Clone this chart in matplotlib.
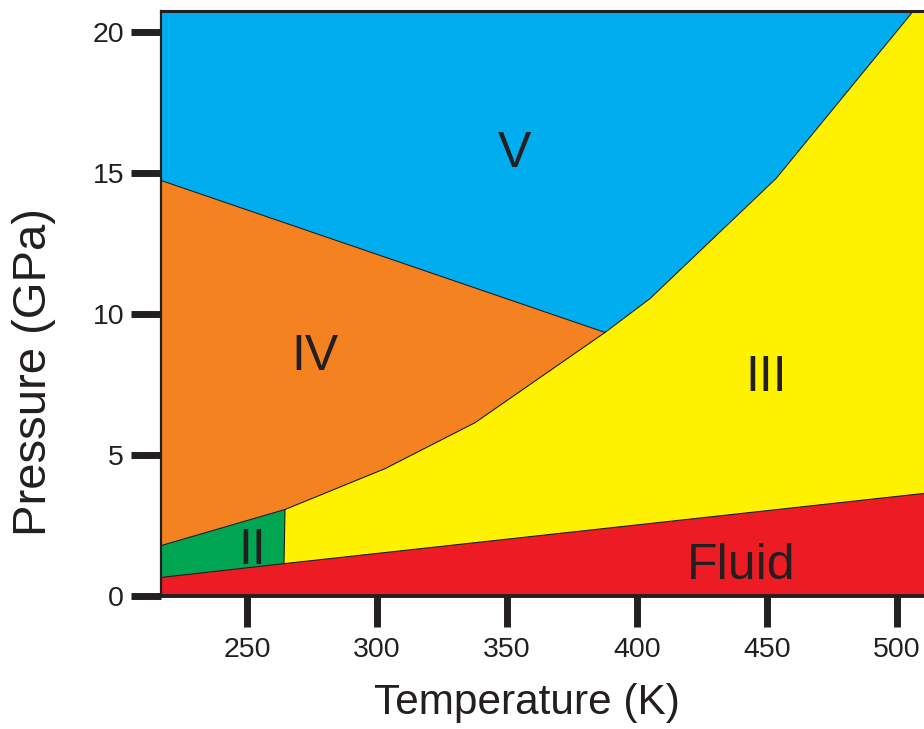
import matplotlib
matplotlib.use("Agg")
import matplotlib.pyplot as plt

plt.rcParams['font.family'] = ['Liberation Sans', 'DejaVu Sans']

INK = '#231F20'

# Axis ranges and ticks
t_min, t_max = 216.9, 510.4
p_min, p_max = 0.0, 20.73
x_ticks = [250, 300, 350, 400, 450, 500]
y_ticks = [0, 5, 10, 15, 20]

# Phase boundaries (T in K, P in GPa)
melt_T = [216.9, 264.2, 510.4]
melt_P = [0.64, 1.13, 3.62]
ii_iv_T = [216.9, 264.6]
ii_iv_P = [1.77, 3.05]
ii_iii_T = [264.6, 264.2]
ii_iii_P = [3.05, 1.13]
iii_upper_T = [264.6, 303.1, 337.7, 387.7, 405.0, 453.5, 506.3]
iii_upper_P = [3.05, 4.50, 6.13, 9.33, 10.53, 14.79, 20.73]
iv_v_T = [216.9, 387.7]
iv_v_P = [14.72, 9.33]

# Phase labels
phase_names = ['V', 'IV', 'III', 'II', 'Fluid']
phase_T = [352.7, 276.0, 449.8, 251.9, 440.0]
phase_P = [15.18, 8.01, 7.27, 1.13, 0.60]

colors = {
    'V': '#00AEEF',
    'IV': '#F58220',
    'III': '#FFF200',
    'II': '#00A651',
    'Fluid': '#ED1C24',
}

fig = plt.figure(figsize=(9.24, 7.29), dpi=100)
ax = fig.add_axes([161 / 924, 1 - 595.5 / 729, (924 - 161) / 924, (595.5 - 11) / 729])
ax.set_xlim(t_min, t_max)
ax.set_ylim(p_min, p_max)

# V region: background above everything
ax.fill([t_min, t_min, t_max, t_max], [p_min, p_max, p_max, p_min],
        color=colors['V'], lw=0, zorder=1)

# III region: right of the III upper boundary, above the melt line
iii_T = iii_upper_T + [t_max, t_max] + melt_T[::-1][:2] + [ii_iii_T[1]]
iii_P = iii_upper_P + [p_max, melt_P[-1]] + melt_P[::-1][:2] + [ii_iii_P[1]]
ax.fill(iii_T, iii_P, color=colors['III'], lw=0, zorder=2)

# IV region
h_idx = iii_upper_T.index(iv_v_T[1])
iv_T = [iv_v_T[0], iv_v_T[1]] + iii_upper_T[:h_idx][::-1] + [ii_iv_T[0]]
iv_P = [iv_v_P[0], iv_v_P[1]] + iii_upper_P[:h_idx][::-1] + [ii_iv_P[0]]
ax.fill(iv_T, iv_P, color=colors['IV'], lw=0, zorder=2)

# II region
ii_T = ii_iv_T + [ii_iii_T[1], melt_T[0]]
ii_P = ii_iv_P + [ii_iii_P[1], melt_P[0]]
ax.fill(ii_T, ii_P, color=colors['II'], lw=0, zorder=2)

# Fluid region
fl_T = melt_T + [t_max, t_min]
fl_P = melt_P + [p_min, p_min]
ax.fill(fl_T, fl_P, color=colors['Fluid'], lw=0, zorder=2)

# Boundary lines
for bt, bp in [(melt_T, melt_P), (ii_iv_T, ii_iv_P), (ii_iii_T, ii_iii_P),
               (iii_upper_T, iii_upper_P), (iv_v_T, iv_v_P)]:
    ax.plot(bt, bp, color=INK, lw=0.8, zorder=3, solid_joinstyle='miter')

for name, t, p in zip(phase_names, phase_T, phase_P):
    ax.text(t, p, name, ha='center', va='baseline', fontsize=36,
            color=INK, zorder=4)

# Spines
ax.spines['right'].set_visible(False)
ax.spines['left'].set_linewidth(1.6)
ax.spines['bottom'].set_linewidth(2.8)
ax.spines['top'].set_linewidth(2.2)
for s in ['left', 'bottom', 'top']:
    ax.spines[s].set_color(INK)
    ax.spines[s].set_zorder(5)

ax.set_xticks(x_ticks)
ax.set_yticks(y_ticks)
ax.set_xticklabels([str(v) for v in x_ticks])
ax.set_yticklabels([str(v) for v in y_ticks])
ax.tick_params(axis='x', direction='out', length=22, width=5, color=INK,
               labelsize=20.5, labelcolor=INK, pad=8)
ax.tick_params(axis='y', direction='out', length=21.5, width=5, color=INK,
               labelsize=20.5, labelcolor=INK, pad=5)

fig.text(527 / 924, 1 - 714 / 729, 'Temperature (K)', ha='center', va='baseline',
         fontsize=30.5, color=INK)
fig.text(12 / 924, 1 - 372.5 / 729, 'Pressure (GPa)', ha='left', va='center',
         rotation=90, fontsize=34, color=INK)

fig.savefig('out.png', dpi=100)
